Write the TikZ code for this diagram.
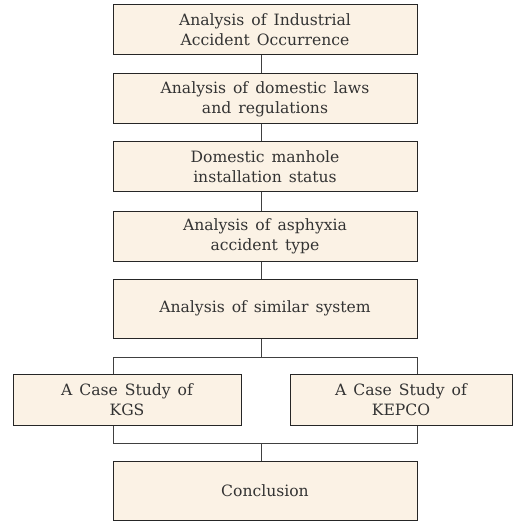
\documentclass[tikz,border=0pt]{standalone}
\usepackage{fontspec}
\setmainfont{DejaVu Serif}
\newcommand{\myboxfont}{\fontsize{15.6}{20}\selectfont\spaceskip=0.45em plus 0.1em\relax}
\begin{document}
\begin{tikzpicture}[x=1pt,y=1pt,
  box/.style={draw=black!85,line width=1pt,fill=boxfill,text=black!80,align=center,
    inner sep=0pt,font=\myboxfont},
  conn/.style={draw=black!75,line width=0.9pt}]
\definecolor{boxfill}{HTML}{FBF2E5}
\useasboundingbox (0,0) rectangle (513,-521);
\node[box,minimum width=304pt,minimum height=50pt] (b1) at (265,-30) {Analysis of Industrial\\Accident Occurrence};
\node[box,minimum width=304pt,minimum height=50pt] (b2) at (265,-99) {Analysis of domestic laws\\and regulations};
\node[box,minimum width=304pt,minimum height=50pt] (b3) at (265,-167) {Domestic manhole\\installation status};
\node[box,minimum width=304pt,minimum height=50pt] (b4) at (265,-236) {Analysis of asphyxia\\accident type};
\node[box,minimum width=304pt,minimum height=59pt] (b5) at (265,-308.5) {Analysis of similar system};
\node[box,minimum width=228pt,minimum height=51pt] (k1) at (127,-399.5) {A Case Study of\\KGS};
\node[box,minimum width=222pt,minimum height=51pt] (k2) at (401,-399.5) {A Case Study of\\KEPCO};
\node[box,minimum width=304pt,minimum height=59pt] (c) at (265,-490.5) {Conclusion};
\coordinate (cx) at (261,0);
\coordinate (sl) at (113,-357);
\coordinate (sr) at (417,-357);
\coordinate (ml) at (113,-443);
\coordinate (mr) at (417,-443);
\draw[conn] (b1.south -| cx) -- (b2.north -| cx);
\draw[conn] (b2.south -| cx) -- (b3.north -| cx);
\draw[conn] (b3.south -| cx) -- (b4.north -| cx);
\draw[conn] (b4.south -| cx) -- (b5.north -| cx);
\draw[conn] (b5.south -| cx) -- (sl -| cx);
\draw[conn] (k1.north -| sl) -- (sl) -- (sr) -- (k2.north -| sr);
\draw[conn] (k1.south -| ml) -- (ml) -- (mr) -- (k2.south -| mr);
\draw[conn] (ml -| cx) -- (c.north -| cx);
\end{tikzpicture}
\end{document}
